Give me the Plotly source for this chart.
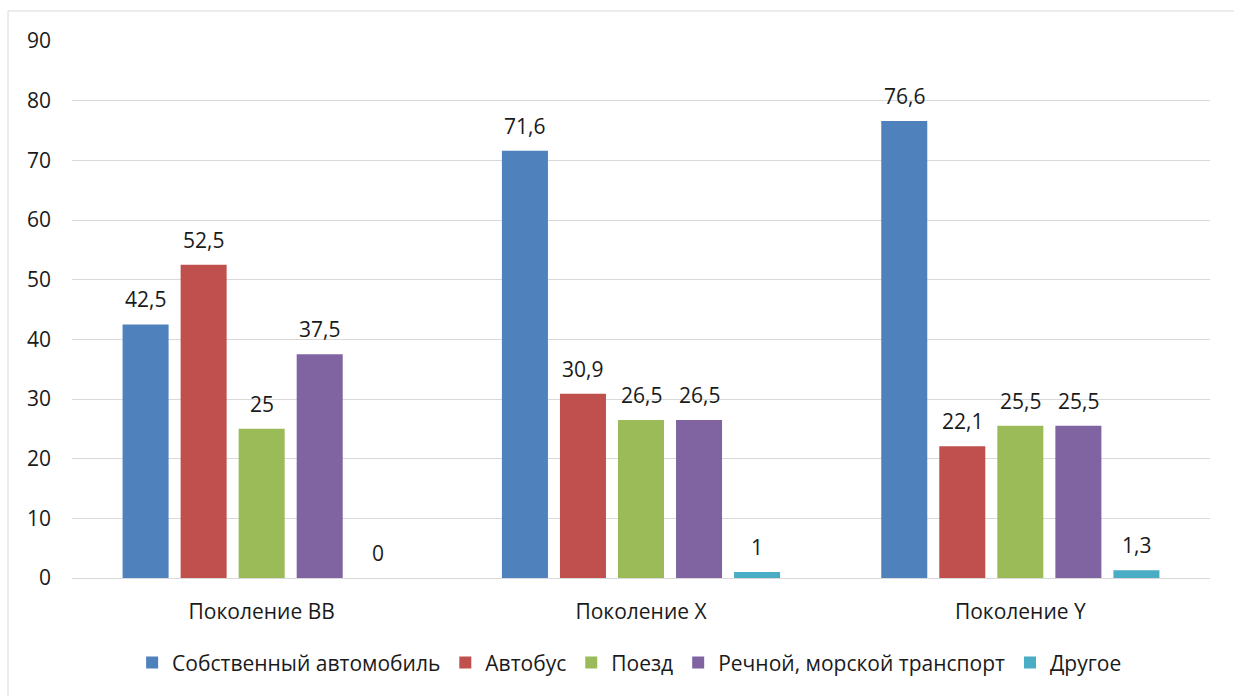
import plotly.graph_objects as go

# Survey: preferred means of transport by generation (%)
categories = ["Поколение ВВ", "Поколение X", "Поколение Y"]
series_names = [
    "Собственный автомобиль",
    "Автобус",
    "Поезд",
    "Речной, морской транспорт",
    "Другое",
]
car = [42.5, 71.6, 76.6]
bus = [52.5, 30.9, 22.1]
train = [25, 26.5, 25.5]
water = [37.5, 26.5, 25.5]
other = [0, 1, 1.3]
y_ticks = [0, 10, 20, 30, 40, 50, 60, 70, 80, 90]

series_values = [car, bus, train, water, other]
colors = ["#4f81bd", "#c0504d", "#9bbb59", "#8064a2", "#4bacc6"]

FONT = "Open Sans"
FSIZE = 21
TEXT = "#1a1a1a"
BARGAP = 0.235
GROUPGAP = 0.207


def fmt(v):
    return ("%g" % v).replace(".", ",")


fig = go.Figure()
for name, vals, col in zip(series_names, series_values, colors):
    fig.add_trace(go.Bar(
        name=name,
        x=list(range(len(categories))),
        y=vals,
        marker=dict(color=col, line=dict(width=0)),
    ))

# value labels above each bar, placed at the bar's slot within its group
n = len(series_values)
slot = (1 - BARGAP) / n
annotations = []
for i, vals in enumerate(series_values):
    for ci, v in enumerate(vals):
        annotations.append(dict(
            x=ci + (i - (n - 1) / 2) * slot,
            y=v,
            xref="x", yref="y",
            text=fmt(v),
            showarrow=False,
            yanchor="bottom",
            yshift=9,
            font=dict(family=FONT, size=FSIZE, color=TEXT),
        ))

fig.update_layout(
    width=1234, height=696,
    margin=dict(l=72, r=24, t=41, b=118),
    paper_bgcolor="white",
    plot_bgcolor="white",
    barmode="group",
    bargap=BARGAP,
    bargroupgap=GROUPGAP,
    font=dict(family=FONT, size=FSIZE, color=TEXT),
    showlegend=True,
    legend=dict(
        orientation="h",
        x=0.49, xanchor="center",
        y=-0.158, yanchor="middle",
        font=dict(family=FONT, size=FSIZE, color=TEXT),
        itemwidth=30,
        tracegroupgap=0,
    ),
    annotations=annotations,
    shapes=[dict(
        type="rect", xref="paper", yref="paper",
        x0=-64 / 1138, x1=1.2, y0=-0.5, y1=(578 - 11) / 537,
        line=dict(color="#d9d9d9", width=1),
        fillcolor="rgba(0,0,0,0)",
        layer="below",
    )],
)

fig.update_xaxes(
    tickmode="array",
    tickvals=list(range(len(categories))),
    ticktext=categories,
    range=[-0.5, len(categories) - 0.5],
    showgrid=False,
    showline=True,
    linecolor="#d9d9d9",
    linewidth=1,
    ticks="",
    ticklabelstandoff=15,
    tickfont=dict(family=FONT, size=FSIZE, color=TEXT),
    zeroline=False,
)
fig.update_yaxes(
    range=[0, 90],
    tickmode="array",
    tickvals=y_ticks,
    ticktext=[str(t) for t in y_ticks],
    showgrid=True,
    gridcolor="#d9d9d9",
    gridwidth=1,
    showline=False,
    zeroline=False,
    ticks="",
    ticklabelstandoff=20,
    tickfont=dict(family=FONT, size=FSIZE, color=TEXT),
)

fig.write_html("out.html")
